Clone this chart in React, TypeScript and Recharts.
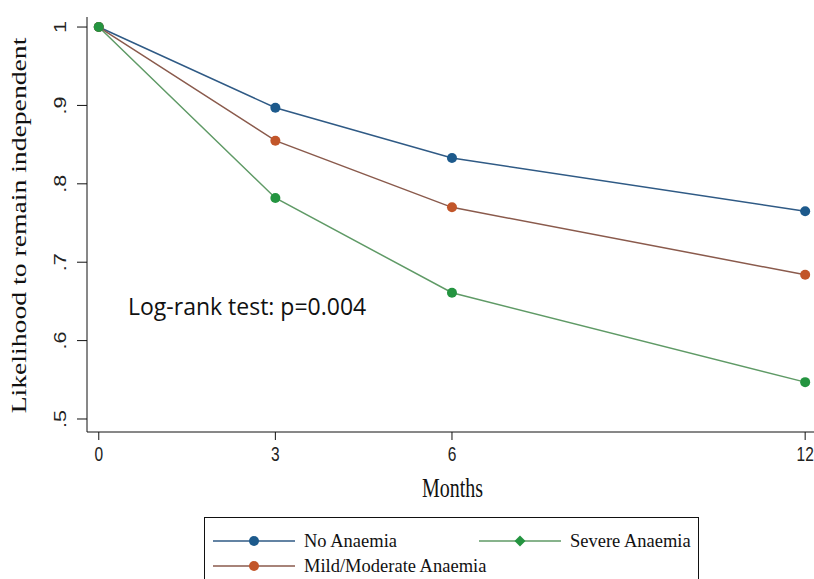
import React from "react";
import { LineChart, Line, XAxis, YAxis } from "recharts";

const months = [0, 3, 6, 12];
const noAnaemia = [1, 0.897, 0.833, 0.765];
const mildModerate = [1, 0.855, 0.77, 0.684];
const severe = [1, 0.782, 0.661, 0.547];
const yTicks = [0.5, 0.6, 0.7, 0.8, 0.9, 1];
const xTicks = [0, 3, 6, 12];

const series = [
  { key: "none", name: "No Anaemia", line: "#2f5a85", dot: "#1d5a8c", values: noAnaemia },
  { key: "mild", name: "Mild/Moderate Anaemia", line: "#8a5a4c", dot: "#c2562a", values: mildModerate },
  { key: "severe", name: "Severe Anaemia", line: "#5f9a66", dot: "#249440", values: severe },
];

const data = months.map((m, i) => {
  const row: Record<string, number> = { month: m };
  series.forEach((s) => (row[s.key] = s.values[i]));
  return row;
});

// the source image is stretched vertically, text looks tall
const STRETCH = 1.35;

const fmtY = (v: number) => (v === 1 ? "1" : v.toFixed(1).replace(/^0/, ""));

const YTick = (props: any) => {
  const { y, payload } = props;
  return (
    <g transform={`translate(60,${y}) scale(1,${STRETCH}) rotate(-90)`}>
      <text x={0} y={0} dy="0.35em" textAnchor="middle" fontSize={16} fill="#222" fontFamily="Liberation Sans">
        {fmtY(payload.value)}
      </text>
    </g>
  );
};

const XTick = (props: any) => {
  const { x, y, payload } = props;
  return (
    <g transform={`translate(${x},${y + 12}) scale(1,${STRETCH})`}>
      <text x={0} y={0} dy="0.35em" textAnchor="middle" fontSize={15.5} fill="#222" fontFamily="Liberation Sans">
        {payload.value}
      </text>
    </g>
  );
};

const YTitle = (props: any) => {
  const vb = props.viewBox || {};
  const cy = (vb.y ?? 17) + (vb.height ?? 415) / 2 + 1;
  return (
    <g transform={`translate(19,${cy}) scale(1,${STRETCH}) rotate(-90)`}>
      <text x={0} y={0} dy="0.35em" textAnchor="middle" fontSize={20.5} fill="#111" fontFamily="Liberation Serif">
        Likelihood to remain independent
      </text>
    </g>
  );
};

const XTitle = (props: any) => {
  const vb = props.viewBox || {};
  const cx = (vb.x ?? 87) + (vb.width ?? 727) / 2 + 2;
  return (
    <g transform={`translate(${cx},488) scale(1,${STRETCH})`}>
      <text x={0} y={0} dy="0.35em" textAnchor="middle" fontSize={20} fill="#111" fontFamily="Liberation Serif">
        Months
      </text>
    </g>
  );
};

const LegendItem = ({ s, left, top }: { s: any; left: number; top: number }) => (
  <div style={{ position: "absolute", left, top, display: "flex", alignItems: "center" }}>
    <svg width={82} height={12}>
      <line x1={0} y1={6} x2={82} y2={6} stroke={s.line} strokeWidth={1.5} />
      {s.key === "severe" ? (
        <polygon points="41,0.5 46.5,6 41,11.5 35.5,6" fill={s.dot} />
      ) : (
        <circle cx={41} cy={6} r={5} fill={s.dot} />
      )}
    </svg>
    <span
      style={{
        marginLeft: 9,
        fontFamily: "Liberation Serif",
        fontSize: 18.5,
        color: "#111",
        lineHeight: "16px",
        display: "inline-block",
        transform: "scaleY(1.05)",
      }}
    >
      {s.name}
    </span>
  </div>
);

export default function App() {
  return (
    <div style={{ position: "absolute", left: 0, top: 0, width: 814, height: 579, background: "#fff", overflow: "hidden" }}>
      <LineChart width={814} height={579} data={data} margin={{ top: 17, right: 0, left: 0, bottom: 77 }}>
        <XAxis
          dataKey="month"
          type="number"
          domain={[-0.2, 12.15]}
          ticks={xTicks}
          interval={0}
          height={70}
          tickSize={8}
          stroke="#111"
          tick={<XTick />}
          label={<XTitle />}
        />
        <YAxis
          type="number"
          domain={[0.4834, 1.0128]}
          ticks={yTicks}
          interval={0}
          width={87}
          tickSize={10}
          stroke="#111"
          tick={<YTick />}
          label={<YTitle />}
        />
        {series.map((s) => (
          <Line
            key={s.key}
            dataKey={s.key}
            name={s.name}
            stroke={s.line}
            strokeWidth={1.5}
            dot={{ r: 5, fill: s.dot, stroke: s.dot, strokeWidth: 0 }}
            isAnimationActive={false}
          />
        ))}
      </LineChart>
      <div
        style={{
          position: "absolute",
          left: 128,
          top: 294,
          fontFamily: "Open Sans",
          fontSize: 23,
          color: "#111",
          lineHeight: "24px",
          whiteSpace: "nowrap",
        }}
      >
        Log-rank test: p=0.004
      </div>
      <div
        style={{
          position: "absolute",
          left: 204,
          top: 517,
          width: 495,
          height: 80,
          border: "1.5px solid #111",
          boxSizing: "border-box",
        }}
      />
      <LegendItem s={series[0]} left={213} top={533} />
      <LegendItem s={series[2]} left={479} top={533} />
      <LegendItem s={series[1]} left={213} top={558} />
    </div>
  );
}
